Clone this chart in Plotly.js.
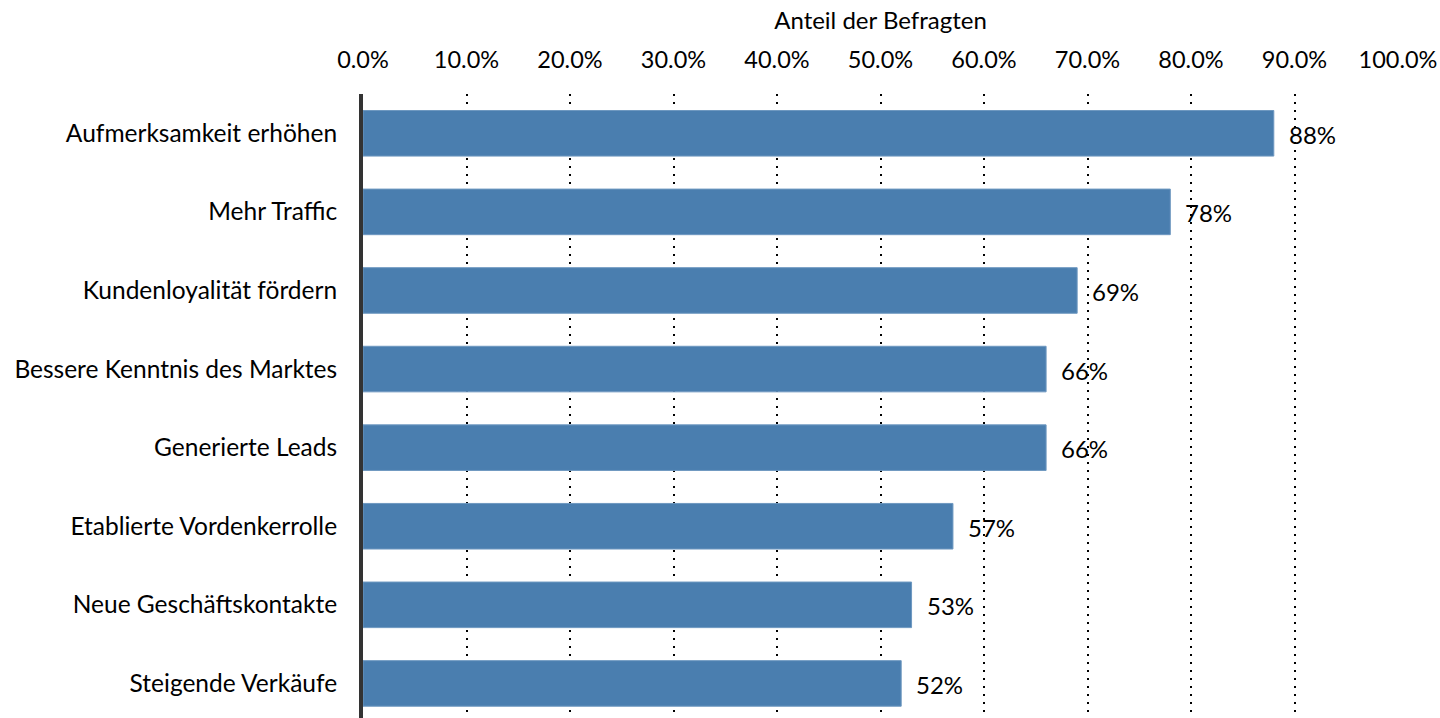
<!DOCTYPE html>
<html>
<head>
<meta charset="utf-8">
<script src="https://cdn.plot.ly/plotly-3.0.1.min.js"></script>
<style>html,body{margin:0;padding:0;background:#fff;}#chart{width:1440px;height:718px;}</style>
</head>
<body>
<div id="chart"></div>
<script>
const categories = ["Aufmerksamkeit erhöhen","Mehr Traffic","Kundenloyalität fördern","Bessere Kenntnis des Marktes","Generierte Leads","Etablierte Vordenkerrolle","Neue Geschäftskontakte","Steigende Verkäufe"];
const values = [88, 78, 69, 66, 66, 57, 53, 52];
const labels = ["88%","78%","69%","66%","66%","57%","53%","52%"];
const FONT = "Lato, 'Noto Sans', sans-serif";

const trace = {
  type: 'bar', orientation: 'h',
  y: categories, x: values,
  width: 0.58,
  marker: {color: '#4A7EAF', line: {color: '#6E98C0', width: 1}},
  hoverinfo: 'none'
};
const annotations = categories.map((c, i) => ({
  x: values[i], y: c, xref: 'x', yref: 'y', text: labels[i],
  showarrow: false, xanchor: 'left', xshift: 13, yshift: -1,
  font: {family: FONT, size: 24, color: '#000'}
}));
const layout = {
  width: 1440, height: 718,
  margin: {l: 363, r: 42, t: 94, b: 0, pad: 0},
  paper_bgcolor: '#fff', plot_bgcolor: '#fff',
  showlegend: false,
  font: {family: FONT, size: 24, color: '#000'},
  xaxis: {
    side: 'top', range: [0, 100], dtick: 10, tick0: 0,
    tickformat: '.1f', ticksuffix: '%',
    showgrid: true, gridcolor: '#000', griddash: '2px,6px', gridwidth: 2,
    zeroline: false, showline: false, ticks: '',
    ticklabelstandoff: 20,
    title: {text: 'Anteil der Befragten', standoff: 8, font: {family: FONT, size: 24, color: '#000'}},
    tickfont: {family: FONT, size: 23.5, color: '#000'},
    fixedrange: true
  },
  yaxis: {
    type: 'category', range: [7.44, -0.5],
    showgrid: false, zeroline: false,
    showline: true, linecolor: '#333', linewidth: 4,
    ticks: '', ticklabelstandoff: 17,
    tickfont: {family: FONT, size: 24.5, color: '#000'},
    fixedrange: true
  },
  annotations: annotations
};
Plotly.newPlot('chart', [trace], layout, {displayModeBar: false, staticPlot: true});
</script>
</body>
</html>
